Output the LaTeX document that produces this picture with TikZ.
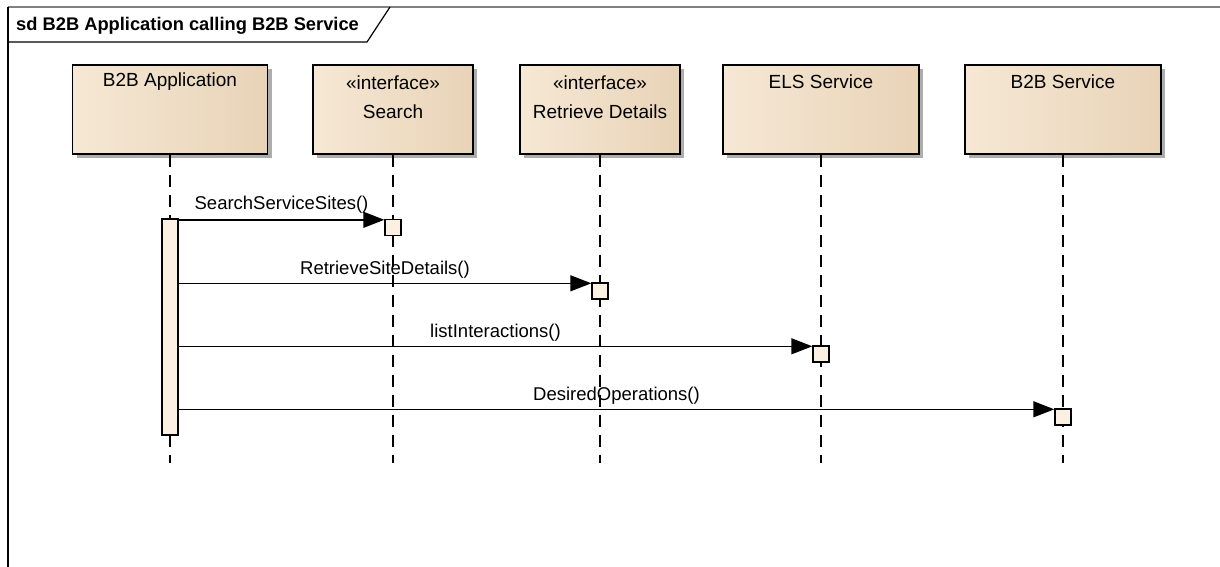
\documentclass[tikz,border=0pt]{standalone}
\usepackage{fontspec}
\setmainfont{Liberation Sans}
\usetikzlibrary{arrows.meta,shadows}
\definecolor{boxL}{HTML}{F6E8D5}
\definecolor{boxM}{HTML}{FBF1E5}
\definecolor{boxR}{HTML}{E8D3B7}
\definecolor{actfill}{HTML}{FBF0E2}
\definecolor{shadowc}{HTML}{ADADAD}
\definecolor{framegray}{HTML}{808080}
\begin{document}
\begin{tikzpicture}[x=1pt,y=-1pt,
  head/.style={draw=black, line width=1.4pt, minimum height=89pt, inner sep=0pt,
    left color=boxL, middle color=boxM, right color=boxR,
    drop shadow={shadow xshift=4pt, shadow yshift=-4pt, fill=shadowc, opacity=1}},
  headtxt/.style={font=\fontsize{19}{22}\selectfont, inner sep=0pt, anchor=center},
  lifeline/.style={draw=black, line width=1.5pt, dash pattern=on 12pt off 8pt},
  actbox/.style={draw=black, line width=1.4pt, fill=actfill, minimum width=16pt, inner sep=0pt},
  msg/.style={draw=black, line width=1.4pt, -{Triangle[length=21pt,width=16pt]}},
  msglbl/.style={font=\fontsize{18.5}{22}\selectfont, inner sep=0pt},
]
\useasboundingbox (0,0) rectangle (1220,567);
% frame
\draw[framegray, line width=1.5pt] (8,7) -- (1220,7);
\draw[black, line width=1.5pt] (8,7) -- (8,567);
\draw[black, line width=1.2pt] (8,42) -- (367,42) -- (390,7);
\node[anchor=west, inner sep=0pt, font=\bfseries\fontsize{18.3}{22}\selectfont] (title) at (16,26) {sd B2B Application calling B2B Service};
% lifeline end coordinates
\coordinate (e1) at (170,463);
\coordinate (e2) at (393,463);
\coordinate (e3) at (600,463);
\coordinate (e4) at (821,463);
\coordinate (e5) at (1063,463);
% heads
\node[head, minimum width=195pt] (b1) at (170,109.5) {};
\node[head, minimum width=160pt] (b2) at (393,109.5) {};
\node[head, minimum width=160pt] (b3) at (600,109.5) {};
\node[head, minimum width=196pt] (b4) at (821,109.5) {};
\node[head, minimum width=196pt] (b5) at (1063,109.5) {};
\node[headtxt] (t1) at ([yshift=-17.5pt]b1.north) {B2B Application};
\node[headtxt] (t2a) at ([yshift=-18pt]b2.north) {«interface»};
\node[headtxt] (t2b) at ([yshift=-47pt]b2.north) {Search};
\node[headtxt] (t3a) at ([yshift=-18pt]b3.north) {«interface»};
\node[headtxt] (t3b) at ([yshift=-47pt]b3.north) {Retrieve Details};
\node[headtxt] (t4) at ([yshift=-17.5pt]b4.north) {ELS Service};
\node[headtxt] (t5) at ([yshift=-17.5pt]b5.north) {B2B Service};
% lifelines
\draw[lifeline] (b1.south) -- (e1);
\draw[lifeline] (b2.south) -- (e2);
\draw[lifeline] (b3.south) -- (e3);
\draw[lifeline] (b4.south) -- (e4);
\draw[lifeline] (b5.south) -- (e5);
% activations
\node[actbox, minimum height=216pt] (act0) at (170,327) {};
\node[actbox, minimum height=16pt] (s1) at (393,227.5) {};
\node[actbox, minimum height=16pt] (s2) at (600,291) {};
\node[actbox, minimum height=16pt] (s3) at (821,354) {};
\node[actbox, minimum height=16pt] (s4) at (1063,417) {};
% messages
\coordinate (m1) at ([yshift=-1pt]s1.north west);
\coordinate (m2) at ([yshift=-1pt]s2.north west);
\coordinate (m3) at ([yshift=-1pt]s3.north west);
\coordinate (m4) at ([yshift=-1pt]s4.north west);
\draw[msg] (act0.east |- m1) -- (m1) node[msglbl, midway, yshift=15pt] (l1) {SearchServiceSites()};
\draw[msg] (act0.east |- m2) -- (m2) node[msglbl, midway, yshift=14pt] (l2) {RetrieveSiteDetails()};
\draw[msg] (act0.east |- m3) -- (m3) node[msglbl, midway, yshift=14pt] (l3) {listInteractions()};
\draw[msg] (act0.east |- m4) -- (m4) node[msglbl, midway, yshift=14pt] (l4) {DesiredOperations()};
\end{tikzpicture}
\end{document}
